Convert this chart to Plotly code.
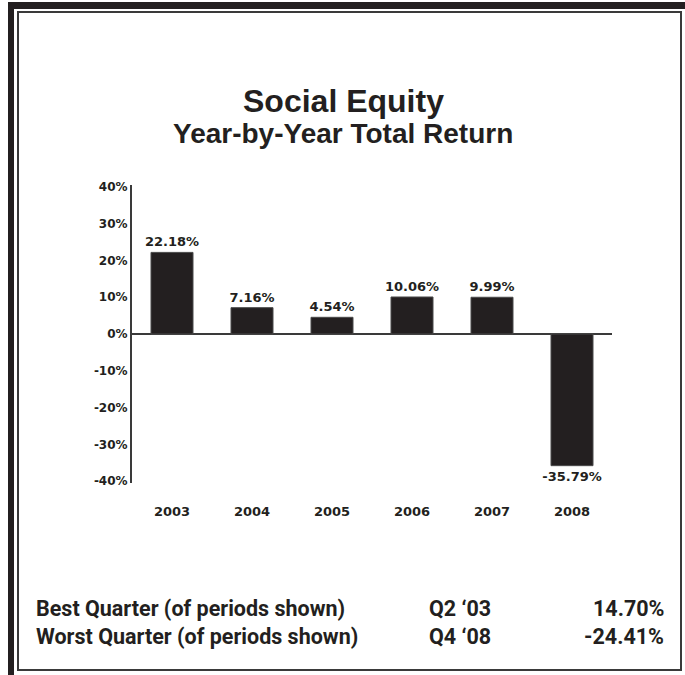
import plotly.graph_objects as go

years = ["2003", "2004", "2005", "2006", "2007", "2008"]
returns = [22.18, 7.16, 4.54, 10.06, 9.99, -35.79]
labels = ["22.18%", "7.16%", "4.54%", "10.06%", "9.99%", "-35.79%"]
ytick_vals = [40, 30, 20, 10, 0, -10, -20, -30, -40]
ytick_text = ["40%", "30%", "20%", "10%", "0%", "-10%", "-20%", "-30%", "-40%"]
title = "Social Equity"
subtitle = "Year-by-Year Total Return"
quarter_rows = [
    ("Best Quarter (of periods shown)", "Q2 \u201803", "14.70%"),
    ("Worst Quarter (of periods shown)", "Q4 \u201808", "-24.41%"),
]

W, H = 685, 675
L, R, T, B = 132, 73, 185, 192
PW, PH = W - L - R, H - T - B

def px(x):
    return (x - L) / PW

def py(y):
    return (H - B - y) / PH

DARK = "#231f20"
NUM_FONT = "DejaVu Sans, Verdana, sans-serif"
HEAD_FONT = "Liberation Sans, Arial, sans-serif"
ROW_FONT = "Roboto, Liberation Sans, Arial, sans-serif"

fig = go.Figure()
fig.add_trace(go.Bar(
    x=years, y=returns, text=labels, textposition="outside",
    constraintext="none",
    width=0.525,
    marker=dict(color=DARK, line=dict(color="#4a4a4a", width=1)),
    textfont=dict(family=NUM_FONT, size=13, color=DARK, weight="bold"),
    cliponaxis=False, hoverinfo="skip",
))

fig.update_layout(
    width=W, height=H,
    margin=dict(l=L, r=R, t=T, b=B, pad=0),
    paper_bgcolor="white", plot_bgcolor="white",
    showlegend=False,
    xaxis=dict(
        type="category", range=[-0.5, 5.5], showline=False, showgrid=False,
        zeroline=False, ticks="", ticklabelstandoff=19,
        tickfont=dict(family=NUM_FONT, size=13, color=DARK, weight="bold"),
    ),
    yaxis=dict(
        range=[-40.5, 40.5], tickvals=ytick_vals, ticktext=ytick_text,
        showgrid=False, showline=True, linecolor="#3a3a3a", linewidth=2,
        zeroline=True, zerolinecolor="#3a3a3a", zerolinewidth=1.5,
        ticks="", ticklabelstandoff=0,
        tickfont=dict(family=NUM_FONT, size=12, color=DARK, weight="bold"),
    ),
)

shapes = [
    dict(type="rect", xref="paper", yref="paper", x0=px(8), x1=px(14), y0=py(675), y1=py(2),
         fillcolor=DARK, line=dict(width=0), layer="above"),
    dict(type="rect", xref="paper", yref="paper", x0=px(8), x1=px(685), y0=py(9), y1=py(2),
         fillcolor=DARK, line=dict(width=0), layer="above"),
    dict(type="rect", xref="paper", yref="paper", x0=px(18), x1=px(681), y0=py(670), y1=py(12),
         fillcolor="rgba(0,0,0,0)", line=dict(color="#3a3a3a", width=2), layer="above"),
]
fig.update_layout(shapes=shapes)

ann = []
ann.append(dict(text=title, x=px(343), y=py(101), xref="paper", yref="paper",
                xanchor="center", yanchor="middle", showarrow=False,
                font=dict(family=HEAD_FONT, size=32, color=DARK, weight="bold")))
ann.append(dict(text=subtitle, x=px(343), y=py(133), xref="paper", yref="paper",
                xanchor="center", yanchor="middle", showarrow=False,
                font=dict(family=HEAD_FONT, size=28, color=DARK, weight="bold")))
row_y = [608, 636]
for (lab, q, val), yy in zip(quarter_rows, row_y):
    f = dict(family=ROW_FONT, size=21.5, color=DARK, weight="bold")
    ann.append(dict(text=lab, x=px(34), y=py(yy), xref="paper", yref="paper",
                    xanchor="left", yanchor="middle", showarrow=False, font=f))
    ann.append(dict(text=q, x=px(427), y=py(yy), xref="paper", yref="paper",
                    xanchor="left", yanchor="middle", showarrow=False, font=f))
    ann.append(dict(text=val, x=px(666), y=py(yy), xref="paper", yref="paper",
                    xanchor="right", yanchor="middle", showarrow=False, font=f))
fig.update_layout(annotations=ann)

fig.write_html("out.html", config={"displayModeBar": False},
               post_script="document.body.style.margin='0';document.body.style.overflow='hidden';")
